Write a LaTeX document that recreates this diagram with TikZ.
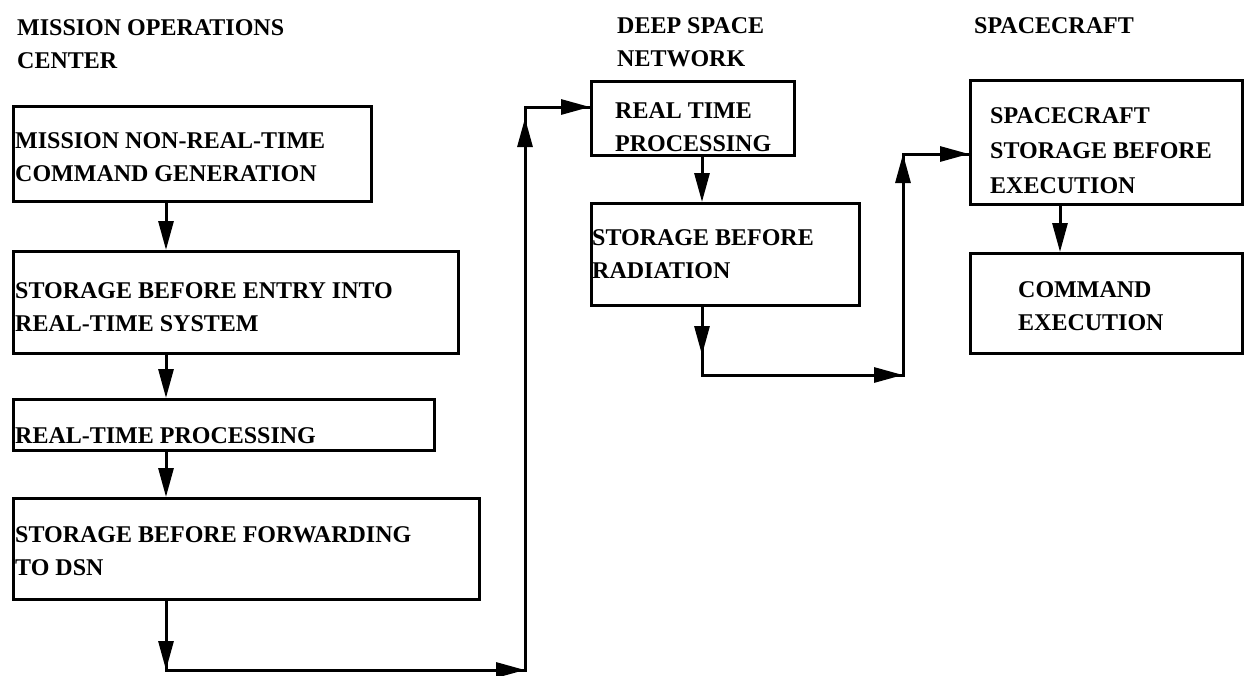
\documentclass[tikz,border=0pt]{standalone}
\usepackage{fontspec}
\setmainfont{Liberation Serif}
\usetikzlibrary{arrows.meta,calc}
\newcommand{\mylines}[1]{\begin{tabular}[t]{@{}l@{}}#1\end{tabular}}
\begin{document}
\begin{tikzpicture}[x=1pt,y=-1pt,
  box/.style={draw, line width=3pt, rectangle, inner sep=0pt, anchor=north west},
  txt/.style={inner sep=0pt, anchor=base west, font=\fontsize{24}{33}\selectfont\bfseries},
  conn/.style={line width=3pt, line join=miter},
  tip/.style={line width=3pt, -{Triangle[length=29pt,width=15pt]}}]
\useasboundingbox (0,0) rectangle (1245,675);
% titles
\node[txt] (t1) at (17,35) {\mylines{MISSION OPERATIONS\\CENTER}};
\node[txt] (t2) at (617,33) {\mylines{DEEP SPACE\\NETWORK}};
\node[txt] (t3) at (974,33) {SPACECRAFT};
% box texts
\node[txt] (l1) at (15,148) {\mylines{MISSION NON-REAL-TIME\\COMMAND GENERATION}};
\node[txt] (l2) at (15,298) {\mylines{STORAGE BEFORE ENTRY INTO\\REAL-TIME SYSTEM}};
\node[txt] (l3) at (15,443) {REAL-TIME PROCESSING};
\node[txt] (l4) at (15,542) {\mylines{STORAGE BEFORE FORWARDING\\TO DSN}};
\node[txt] (l5) at (615,118) {\mylines{REAL TIME\\PROCESSING}};
\node[txt] (l6) at (592,245) {\mylines{STORAGE BEFORE\\RADIATION}};
\node[txt, font=\fontsize{24}{35}\selectfont\bfseries] (l7) at (990,123) {\mylines{SPACECRAFT\\STORAGE BEFORE\\EXECUTION}};
\node[txt] (l8) at (1018,297) {\mylines{COMMAND\\EXECUTION}};
% boxes
\node[box, minimum width=358pt, minimum height=95pt] (b1) at (12,105) {};
\node[box, minimum width=445pt, minimum height=102pt] (b2) at (12,250) {};
\node[box, minimum width=421pt, minimum height=51pt] (b3) at (12,398) {};
\node[box, minimum width=466pt, minimum height=101pt] (b4) at (12,497) {};
\node[box, minimum width=203pt, minimum height=74pt] (b5) at (590,80) {};
\node[box, minimum width=268pt, minimum height=102pt] (b6) at (590,202) {};
\node[box, minimum width=272pt, minimum height=124pt] (b7) at (969,79) {};
\node[box, minimum width=272pt, minimum height=100pt] (b8) at (969,252) {};
% helper coordinates
\coordinate (xm) at (166,0);
\coordinate (xd) at (702,0);
\coordinate (xs) at (1060,0);
\coordinate (c1) at (166,670);
\coordinate (c2) at (525,670);
\coordinate (c3) at (525,107);
\coordinate (d1) at (702,375);
\coordinate (d2) at (903,375);
\coordinate (d3) at (903,154);
% MOC chain
\draw[tip] (b1.south -| xm) -- (b2.north -| xm);
\draw[tip] (b2.south -| xm) -- (b3.north -| xm);
\draw[tip] (b3.south -| xm) -- (b4.north -| xm);
\draw[conn] (b4.south -| xm) -- (c1) -- (c2) -- (c3) -- (c3 -| b5.west);
\draw[tip] (b4.south -| xm) -- (c1);
\draw[tip] (c1) -- (c2);
\draw[tip, shorten >=11pt] (c2) -- (c3);
\draw[tip] (c3) -- (c3 -| b5.west);
% DSN chain
\draw[tip] (b5.south -| xd) -- (b6.north -| xd);
\draw[conn] (b6.south -| xd) -- (d1) -- (d2) -- (d3) -- (d3 -| b7.west);
\draw[tip, shorten >=20pt] (b6.south -| xd) -- (d1);
\draw[tip] (d1) -- (d2);
\draw[tip] (d2) -- (d3);
\draw[tip] (d3) -- (d3 -| b7.west);
% spacecraft
\draw[tip] (b7.south -| xs) -- (b8.north -| xs);
\end{tikzpicture}
\end{document}
